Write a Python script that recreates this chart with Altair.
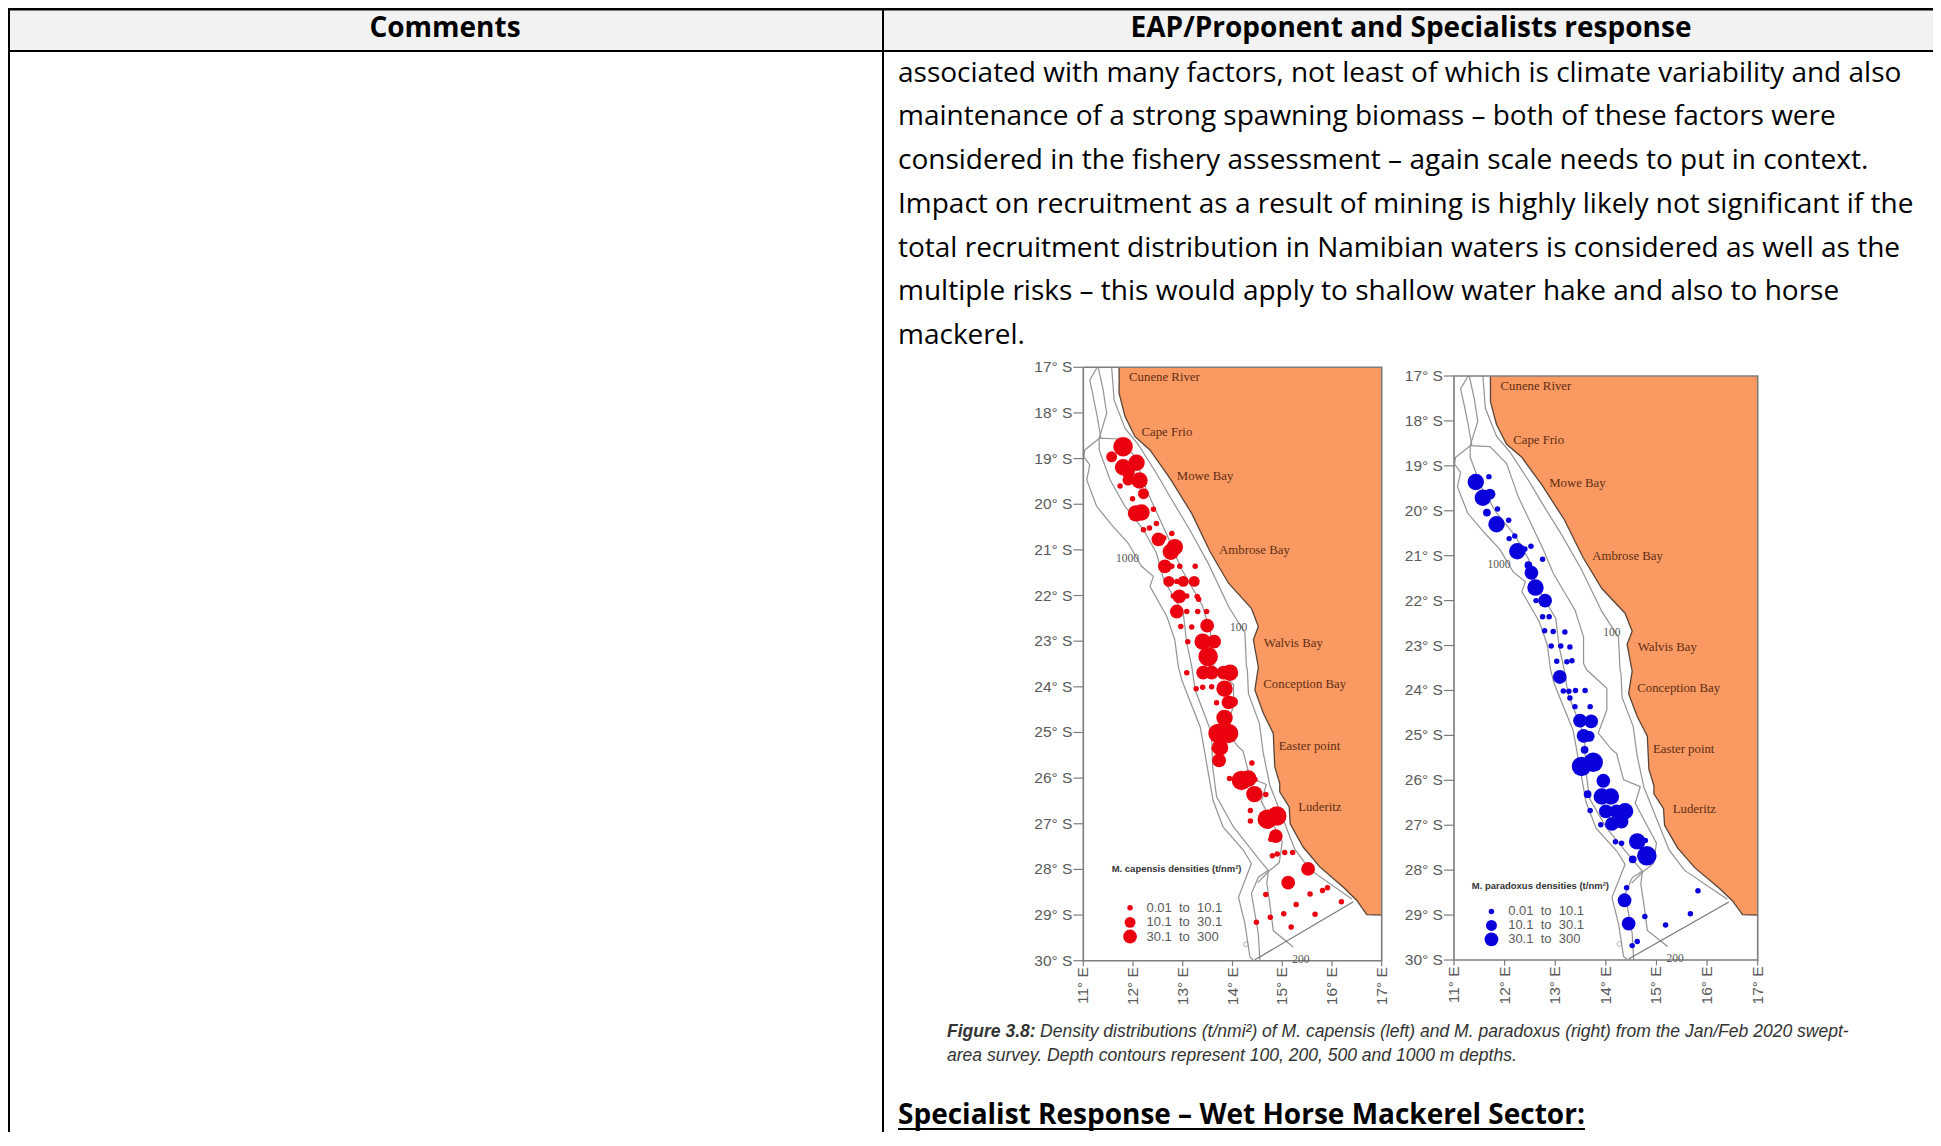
import altair as alt
import pandas as pd

# ---------- document text ----------
HEADERS = ["Comments", "EAP/Proponent and Specialists response"]
BODY_LINES = [
    "associated with many factors, not least of which is climate variability and also",
    "maintenance of a strong spawning biomass – both of these factors were",
    "considered in the fishery assessment – again scale needs to put in context.",
    "Impact on recruitment as a result of mining is highly likely not significant if the",
    "total recruitment distribution in Namibian waters is considered as well as the",
    "multiple risks – this would apply to shallow water hake and also to horse",
    "mackerel.",
]
CAPTION_BOLD = "Figure 3.8:"
CAPTION_1 = "Density distributions (t/nmi²) of M. capensis (left) and M. paradoxus (right) from the Jan/Feb 2020 swept-"
CAPTION_2 = "area survey. Depth contours represent 100, 200, 500 and 1000 m depths."
SECTION = "Specialist Response – Wet Horse Mackerel Sector:"

# ---------- base map ----------
COAST_LON = [11.72,11.72,11.84,12.04,12.34,12.74,13.18,13.55,13.92,14.38,14.52,14.42,14.52,14.49,14.45,14.62,14.82,14.85,14.95,14.95,15.14,15.16,15.42,15.76,16.23,16.50,16.70,17.0]
COAST_LAT = [17.0,17.57,18.08,18.52,18.81,19.43,20.20,21.04,21.73,22.28,22.68,22.97,23.57,23.78,24.07,24.58,25.02,25.75,26.12,26.30,26.63,27.0,27.51,27.95,28.39,28.68,28.99,29.0]

D1000_LON = [11.28,11.13,11.20,11.28,11.35,11.03,11.01,11.13,11.07,11.27,11.60,11.90,12.17,12.41,12.34,12.68,12.84,12.91,12.98,13.35,13.41,13.61,13.81,14.22,14.38,14.12,14.25,14.35,14.42]
D1000_LAT = [17.0,17.28,17.64,18.08,18.53,18.81,18.96,19.14,19.47,20.05,20.49,20.85,21.36,21.58,21.80,22.46,22.97,23.55,23.85,24.88,25.24,26.49,27.07,27.58,27.87,28.61,29.19,29.92,29.99]
D500_LON = [11.30,11.40,11.47,11.32,11.32,11.54,11.84,12.21,12.47,12.62,13.01,13.08,13.18,13.25,13.58,13.60,13.68,14.02,14.55,14.72,14.52,14.38,14.52,14.55]
D500_LAT = [17.0,17.50,18.01,18.55,18.81,19.47,20.05,20.56,21.07,21.66,22.39,23.04,23.55,24.07,25.02,25.75,26.41,27.07,27.80,28.02,28.17,28.53,29.41,30.0]
D200_LON = [11.32,11.71,12.04,12.27,12.77,12.96,13.39,13.56,13.56,13.62,14.02,14.02,13.85,14.12,14.21,14.35,14.68,14.58,15.0,14.94,14.74,14.51]
D200_LAT = [18.55,18.57,18.95,19.69,20.88,21.39,22.21,22.81,23.40,23.54,23.95,24.43,24.95,25.32,25.40,25.99,26.14,26.51,27.40,27.85,28.03,28.29]
D200B_LON = [14.72,14.69,14.75,14.82,15.22]
D200B_LAT = [28.05,28.30,28.75,29.34,29.70]
D100_LON = [11.57,11.62,11.84,12.11,12.47,12.74,13.14,13.51,13.92,14.25,14.28,14.30,14.32,14.54,14.62,14.75,15.0,15.25,15.55,16.4]
D100_LAT = [17.0,17.72,18.34,18.70,19.32,19.83,20.56,21.29,22.24,22.82,23.55,23.63,24.15,24.80,25.46,26.15,26.85,27.55,28.0,28.65]
BOUND_LON = [14.45,16.43]
BOUND_LAT = [29.98,28.71]
RING_LON = [14.27]
RING_LAT = [29.64]

FRAME_LON = [11,17,17,11,11]
FRAME_LAT = [17,17,30,30,17]
LAT_TICKS = [17,18,19,20,21,22,23,24,25,26,27,28,29,30]
LON_TICKS = [11,12,13,14,15,16,17]

PLACE_NAMES = ["Cunene River","Cape Frio","Mowe Bay","Ambrose Bay","Walvis Bay","Conception Bay","Easter point","Luderitz"]
PLACE_LON = [11.92,12.17,12.88,13.73,14.63,14.62,14.93,15.32]
PLACE_LAT = [17.22,18.42,19.38,21.0,23.04,23.94,25.30,26.63]
DEPTH_NAMES = ["100","1000","200"]
DEPTH_LON = [13.95,11.66,15.20]
DEPTH_LAT = [22.72,21.20,29.98]

# ---------- survey points (class 1 smallest .. 6 largest) ----------
CAP_LON = [11.80,11.57,11.80,12.07,11.90,11.90,12.13,11.74,12.21,11.99,12.06,12.17,12.41,12.21,12.33,12.47,12.78,12.51,12.62,12.84,12.76,12.64,12.78,12.94,13.25,12.72,13.01,13.23,12.88,12.93,12.81,13.08,13.29,13.32,12.88,13.08,13.30,13.48,12.96,13.18,13.49,13.10,13.40,13.63,13.51,13.08,13.41,13.58,13.82,13.95,13.27,13.40,13.58,13.84,13.68,13.92,14.0,13.84,13.71,13.92,13.75,13.63,13.73,14.39,13.94,14.18,14.32,14.45,14.44,14.67,14.36,14.36,14.70,14.89,14.87,14.77,14.80,14.90,15.05,15.21,15.52,15.12,14.67,15.56,15.81,15.91,16.19,15.28,15.03,14.76,14.48,15.66,15.18]
CAP_LAT = [18.74,18.96,19.19,19.09,19.28,19.47,19.48,19.60,19.77,19.88,20.20,20.18,20.11,20.56,20.52,20.42,20.64,20.77,20.74,20.94,21.04,21.36,21.36,21.36,21.36,21.69,21.69,21.69,21.69,22.02,22.01,22.01,22.02,22.08,22.35,22.35,22.35,22.35,22.68,22.69,22.66,23.01,23.01,23.01,23.34,23.69,23.69,23.69,23.69,23.69,24.04,24.01,24.0,24.04,24.35,24.34,24.33,24.68,25.02,25.02,25.33,25.35,25.61,25.67,26.01,26.05,26.01,26.03,26.35,26.36,26.71,26.94,26.90,26.83,27.27,27.34,27.70,27.66,27.63,27.63,27.99,28.29,28.55,28.54,28.46,28.40,28.71,28.77,28.97,29.05,29.16,28.98,29.26]
CAP_CLS = [6,3,5,5,4,3,5,1,3,1,5,5,1,1,1,1,1,4,1,5,5,4,1,1,1,3,3,3,1,4,1,1,1,1,4,1,1,1,1,1,4,1,5,4,6,1,4,4,4,5,1,1,1,5,1,4,3,5,6,6,5,1,4,1,1,6,5,1,5,1,1,1,6,6,4,1,1,1,1,1,4,4,1,1,1,1,1,1,1,1,1,1,1]
PAR_LON = [11.69,11.43,11.57,11.71,11.65,11.86,11.84,12.08,12.09,12.20,12.25,12.40,12.52,12.75,12.47,12.53,12.61,12.62,12.80,12.75,12.88,12.79,12.96,13.19,12.92,13.11,13.29,13.03,13.23,13.33,13.09,13.16,13.27,13.40,13.59,13.29,13.39,13.69,13.49,13.71,13.56,13.67,13.58,13.52,13.75,13.95,13.64,13.92,14.10,13.69,14.0,14.21,14.38,14.12,14.31,13.90,14.19,14.31,14.62,14.78,14.81,14.53,15.82,14.41,14.37,14.77,15.67,14.45,15.18,14.62,14.52]
PAR_LAT = [19.24,19.36,19.71,19.63,20.04,19.96,20.30,20.21,20.62,20.56,20.90,20.85,20.79,21.08,21.21,21.38,21.71,22.00,22.00,22.36,22.36,22.67,22.69,22.70,23.01,23.01,23.03,23.35,23.36,23.34,23.70,24.01,24.02,24.0,24.0,24.17,24.36,24.36,24.67,24.69,25.01,25.02,25.32,25.69,25.60,26.01,26.31,26.36,26.36,26.67,26.69,26.69,26.69,26.97,26.92,26.99,27.37,27.40,27.36,27.34,27.68,27.76,28.46,28.39,28.67,29.03,28.97,29.19,29.22,29.59,29.68]
PAR_CLS = [1,5,5,3,2,1,5,1,1,1,5,1,1,1,2,4,5,1,4,1,1,1,1,1,1,1,1,1,1,1,4,1,1,1,1,1,1,1,4,4,4,3,2,6,6,4,2,5,5,1,4,4,5,4,4,1,1,1,5,1,6,2,1,1,4,1,1,4,1,1,1]

LEGEND_LABELS = ["0.01\u00a0\u00a0to\u00a0\u00a010.1","10.1\u00a0\u00a0to\u00a0\u00a030.1","30.1\u00a0\u00a0to\u00a0\u00a0300"]
LEGEND_CLS = [1,3,4]
CAP_TITLE = "M. capensis densities (t/nm²)"
CAP_TITLE_POS = (11.57,27.99)
CAP_LEG_LAT = [28.84,29.16,29.47]
CAP_LEG_SYM = 11.94
CAP_LEG_TXT = 12.27
PAR_TITLE = "M. paradoxus densities (t/nm²)"
PAR_TITLE_POS = (11.35,28.35)
PAR_LEG_LAT = [28.92,29.23,29.54]
PAR_LEG_SYM = 11.74
PAR_LEG_TXT = 12.07

BODY = "Open Sans"
ORANGE = "#FA9A62"
GREY = "#939393"
LABEL = "#5a5a5a"
BROWN = "#5f2c12"
SIZE_SCALE = alt.Scale(type="ordinal", domain=[1,2,3,4,5,6], range=[30,60,120,190,270,380])
ONE = pd.DataFrame({"k":[0]})
W, H = 1925, 1124


def rule(x, x2, y, y2, color="#000000", w=2):
    return alt.Chart(ONE).mark_rule(color=color, strokeWidth=w).encode(
        x=alt.value(x), x2=alt.value(x2), y=alt.value(y), y2=alt.value(y2))


def map_panel(xr, yr, lons, lats, cls, color, title, title_pos, leg_lat, leg_sym, leg_txt):
    X = lambda f: alt.X(f, type="quantitative", axis=None, stack=None,
                        scale=alt.Scale(domain=[11,17], range=xr, nice=False, zero=False))
    Y = lambda f: alt.Y(f, type="quantitative", axis=None,
                        scale=alt.Scale(domain=[17,30], range=yr, nice=False, zero=False))
    layers = []
    coast = pd.DataFrame({"lon":COAST_LON,"lat":COAST_LAT,"east":[17]*len(COAST_LON),"i":range(len(COAST_LON))})
    layers.append(alt.Chart(coast).mark_area(orient="horizontal", color=ORANGE).encode(
        x=X("lon"), x2="east:Q", y=Y("lat")))
    rows = []
    for name, a, b in [("1000",D1000_LON,D1000_LAT),("500",D500_LON,D500_LAT),("200",D200_LON,D200_LAT),
                       ("200b",D200B_LON,D200B_LAT),("100",D100_LON,D100_LAT)]:
        rows += [{"c":name,"lon":p,"lat":q,"i":i} for i,(p,q) in enumerate(zip(a,b))]
    layers.append(alt.Chart(pd.DataFrame(rows)).mark_line(color=GREY, strokeWidth=1.2).encode(
        x=X("lon"), y=Y("lat"), detail="c:N", order="i:Q"))
    layers.append(alt.Chart(pd.DataFrame({"lon":BOUND_LON,"lat":BOUND_LAT})).mark_line(color="#777777", strokeWidth=1.2).encode(
        x=X("lon"), y=Y("lat")))
    layers.append(alt.Chart(pd.DataFrame({"lon":RING_LON,"lat":RING_LAT})).mark_point(color=GREY, size=22, strokeWidth=1).encode(
        x=X("lon"), y=Y("lat")))
    layers.append(alt.Chart(coast).mark_line(color="#5a4436", strokeWidth=1.3).encode(
        x=X("lon"), y=Y("lat"), order="i:Q"))
    frame = pd.DataFrame({"lon":FRAME_LON,"lat":FRAME_LAT,"i":range(5)})
    layers.append(alt.Chart(frame).mark_line(color="#7d7d7d", strokeWidth=1.6).encode(
        x=X("lon"), y=Y("lat"), order="i:Q"))
    lat_t = pd.DataFrame({"lat":LAT_TICKS,"a":[10.8]*14,"b":[11]*14,"t":[f"{v}° S" for v in LAT_TICKS],"lx":[10.78]*14})
    layers.append(alt.Chart(lat_t).mark_rule(color="#7d7d7d", strokeWidth=1.2).encode(x=X("a"), x2="b:Q", y=Y("lat")))
    layers.append(alt.Chart(lat_t).mark_text(align="right", baseline="middle", font="Liberation Sans", fontSize=15.5, color=LABEL).encode(
        x=X("lx"), y=Y("lat"), text="t:N"))
    lon_t = pd.DataFrame({"lon":LON_TICKS,"a":[30]*7,"b":[30.12]*7,"t":[f"{v}° E" for v in LON_TICKS],"ly":[30.14]*7})
    layers.append(alt.Chart(lon_t).mark_rule(color="#7d7d7d", strokeWidth=1.2).encode(x=X("lon"), y=Y("a"), y2="b:Q"))
    layers.append(alt.Chart(lon_t).mark_text(align="right", baseline="middle", angle=270, font="Liberation Sans", fontSize=15.5, color=LABEL).encode(
        x=X("lon"), y=Y("ly"), text="t:N"))
    pts = pd.DataFrame({"lon":lons,"lat":lats,"cls":cls})
    layers.append(alt.Chart(pts).mark_circle(color=color, opacity=1).encode(
        x=X("lon"), y=Y("lat"), size=alt.Size("cls:O", scale=SIZE_SCALE, legend=None)))
    places = pd.DataFrame({"lon":PLACE_LON,"lat":PLACE_LAT,"t":PLACE_NAMES})
    layers.append(alt.Chart(places).mark_text(align="left", baseline="middle", font="Liberation Serif", fontSize=12.8, color=BROWN).encode(
        x=X("lon"), y=Y("lat"), text="t:N"))
    depths = pd.DataFrame({"lon":DEPTH_LON,"lat":DEPTH_LAT,"t":DEPTH_NAMES})
    layers.append(alt.Chart(depths).mark_text(align="left", baseline="middle", font="Liberation Serif", fontSize=11.5, color="#555555").encode(
        x=X("lon"), y=Y("lat"), text="t:N"))
    ttl = pd.DataFrame({"lon":[title_pos[0]],"lat":[title_pos[1]],"t":[title]})
    layers.append(alt.Chart(ttl).mark_text(align="left", baseline="middle", font="Liberation Sans", fontWeight="bold", fontSize=9.5, color="#333333").encode(
        x=X("lon"), y=Y("lat"), text="t:N"))
    leg = pd.DataFrame({"sym":[leg_sym]*3,"tx":[leg_txt]*3,"lat":leg_lat,"cls":LEGEND_CLS,"t":LEGEND_LABELS})
    layers.append(alt.Chart(leg).mark_circle(color=color, opacity=1).encode(
        x=X("sym"), y=Y("lat"), size=alt.Size("cls:O", scale=SIZE_SCALE, legend=None)))
    layers.append(alt.Chart(leg).mark_text(align="left", baseline="middle", font="Liberation Sans", fontSize=13, color=LABEL).encode(
        x=X("tx"), y=Y("lat"), text="t:N"))
    return layers


doc = []
doc.append(alt.Chart(ONE).mark_rect(color="#F2F2F2").encode(
    x=alt.value(0), x2=alt.value(W), y=alt.value(0), y2=alt.value(43)))
doc.append(rule(0, W, 1, 1, w=3))
doc.append(rule(0, W, 43, 43, w=2))
doc.append(rule(1, 1, 0, H, w=2))
doc.append(rule(875, 875, 0, H, w=2))
doc.append(alt.Chart(pd.DataFrame({"t":[HEADERS[0]]})).mark_text(font=BODY, fontWeight="bold", fontSize=28, color="#000000", align="center", baseline="middle").encode(
    x=alt.value(437), y=alt.value(21), text="t:N"))
doc.append(alt.Chart(pd.DataFrame({"t":[HEADERS[1]]})).mark_text(font=BODY, fontWeight="bold", fontSize=28, color="#000000", align="center", baseline="middle").encode(
    x=alt.value(1403), y=alt.value(21), text="t:N"))
body = pd.DataFrame({"line":range(len(BODY_LINES)),"t":BODY_LINES})
doc.append(alt.Chart(body).mark_text(font=BODY, fontSize=28, color="#000000", align="left", baseline="middle").encode(
    x=alt.value(890), y=alt.Y("line:Q", axis=None, scale=alt.Scale(domain=[0,6], range=[65.5,328], nice=False, zero=False)), text="t:N"))
for t, x, y, w, st in [(CAPTION_BOLD,939,1024,"bold","italic"),(CAPTION_1,1032,1024,"normal","italic"),(CAPTION_2,939,1047.5,"normal","italic")]:
    doc.append(alt.Chart(pd.DataFrame({"t":[t]})).mark_text(font="Liberation Sans", fontSize=17.55, fontWeight=w, fontStyle=st, color="#333333", align="left", baseline="middle").encode(
        x=alt.value(x), y=alt.value(y), text="t:N"))
doc.append(alt.Chart(pd.DataFrame({"t":[SECTION]})).mark_text(font=BODY, fontWeight="bold", fontSize=28, color="#000000", align="left", baseline="middle").encode(
    x=alt.value(890), y=alt.value(1108), text="t:N"))
doc.append(rule(890, 1577, 1121, 1121, w=2))

left = map_panel([1075.3,1373.7],[359.3,952.7],CAP_LON,CAP_LAT,CAP_CLS,"#EB0010",CAP_TITLE,CAP_TITLE_POS,CAP_LEG_LAT,CAP_LEG_SYM,CAP_LEG_TXT)
right = map_panel([1446,1749.7],[368,952],PAR_LON,PAR_LAT,PAR_CLS,"#0A00DC",PAR_TITLE,PAR_TITLE_POS,PAR_LEG_LAT,PAR_LEG_SYM,PAR_LEG_TXT)

chart = alt.layer(*(doc + left + right)).resolve_scale(
    x="independent", y="independent", size="independent"
).properties(
    width=W, height=H, padding=0, background="white",
    autosize=alt.AutoSizeParams(type="none"),
).configure_view(strokeWidth=0)

chart.save("out.html", embed_options={"renderer": "svg", "actions": False})
